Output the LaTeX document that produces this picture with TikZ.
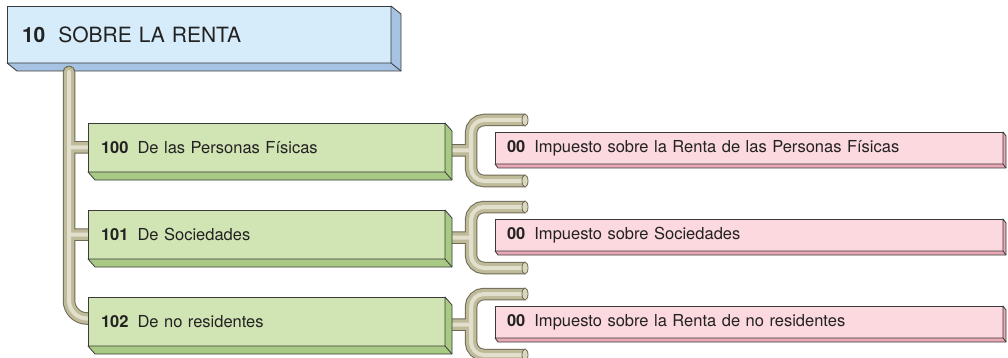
\documentclass[tikz,border=0pt]{standalone}
\usepackage{fontspec}
\setmainfont{TeX Gyre Heros}
\usetikzlibrary{calc}
\pgfdeclarelayer{under}
\pgfdeclarelayer{tubes}
\pgfsetlayers{under,tubes,main}
\definecolor{boxline}{HTML}{3A3A3A}
\definecolor{textc}{HTML}{222222}
\definecolor{topfill}{HTML}{D6ECFA}
\definecolor{topside}{HTML}{A7C3E3}
\definecolor{greenfill}{HTML}{D1E4B3}
\definecolor{greenside}{HTML}{A9CA84}
\definecolor{pinkfill}{HTML}{FCD8DF}
\definecolor{pinkside}{HTML}{E9A8B5}
\definecolor{tubeline}{HTML}{6E6A55}
\definecolor{tubefill}{HTML}{BEBA9A}
\definecolor{tubelight}{HTML}{E2E0CC}
\definecolor{tubecap}{HTML}{DAD7BF}
\newcommand\boxdepth[4]{%
  \path[draw=boxline,line width=0.8pt,line join=round,fill=#4]
    (#1.north east) -- ($(#1.north east)+(#2,#3)$) -- ($(#1.south east)+(#2,#3)$)
    -- ($(#1.south west)+(#2,#3)$) -- (#1.south west) -- (#1.south east) -- cycle;
  \draw[boxline,line width=0.8pt] (#1.south east) -- ($(#1.south east)+(#2,#3)$);
}
\begin{document}
\begin{tikzpicture}[x=1pt,y=-1pt,
  basebox/.style={draw=boxline, line width=0.8pt, anchor=north west, outer sep=0pt,
    inner ysep=0pt, align=left, text=textc},
  topbox/.style={basebox, fill=topfill, minimum height=57pt, inner xsep=15pt, text width=354pt,
    font=\fontsize{21}{25}\selectfont},
  greenbox/.style={basebox, fill=greenfill, minimum height=49pt, inner xsep=13pt, text width=331pt,
    font=\fontsize{16.5}{19}\selectfont},
  pinkbox/.style={basebox, fill=pinkfill, minimum height=32pt, inner xsep=12pt, text width=484pt,
    font=\fontsize{16.5}{19}\selectfont},
  tubeA/.style={draw=tubeline, line width=12.5pt},
  tubeB/.style={draw=tubefill, line width=10.5pt},
  tubeC/.style={draw=tubelight, line width=4pt},
  tubecapstyle/.style={draw=tubeline, line width=0.8pt, fill=tubecap}
]
\useasboundingbox (0,0) rectangle (1008,358);

% top box (under the tubes)
\begin{pgfonlayer}{under}
\node[topbox] (top) at (7,6) {{\bfseries 10}\hspace{13pt}SOBRE LA RENTA};
\boxdepth{top}{10}{8}{topside}
\end{pgfonlayer}

% green boxes
\node[greenbox] (g1) at (88,123) {{\bfseries 100}\hspace{9pt}De las Personas Físicas};
\boxdepth{g1}{7}{8}{greenside}
\node[greenbox] (g2) at (88,210) {{\bfseries 101}\hspace{9pt}De Sociedades};
\boxdepth{g2}{7}{8}{greenside}
\node[greenbox] (g3) at (88,297) {{\bfseries 102}\hspace{9pt}De no residentes};
\boxdepth{g3}{7}{8}{greenside}

% pink boxes
\node[pinkbox] (p1) at (495,132) {{\bfseries 00}\hspace{9pt}Impuesto sobre la Renta de las Personas Físicas};
\boxdepth{p1}{3}{4}{pinkside}
\node[pinkbox] (p2) at (495,219) {{\bfseries 00}\hspace{9pt}Impuesto sobre Sociedades};
\boxdepth{p2}{3}{4}{pinkside}
\node[pinkbox] (p3) at (495,306) {{\bfseries 00}\hspace{9pt}Impuesto sobre la Renta de no residentes};
\boxdepth{p3}{3}{4}{pinkside}

\coordinate (pipetop) at ($(top.south west)+(62,9)$);
\coordinate (pipeend) at ($(g3.west)+(0,-3)$);
\coordinate (b1) at ($(g1.east)+(26,3)$);
\coordinate (b2) at ($(g2.east)+(26,3)$);
\coordinate (b3) at ($(g3.east)+(26,3)$);

\begin{pgfonlayer}{tubes}
\newcommand\lefttree{(pipetop) |- (pipeend) (pipetop |- g1.west) -- (g1.west) (pipetop |- g2.west) -- (g2.west)}
\foreach \s in {tubeA,tubeB,tubeC}{
  \draw[\s, line cap=round, rounded corners=18pt] \lefttree;
}
\foreach \g/\b in {g1/b1,g2/b2,g3/b3}{
  \foreach \s in {tubeA,tubeB,tubeC}{
    \draw[\s, line cap=butt, rounded corners=13pt]
      (\g.east |- \b) -- (\b)
      ($(\b)+(54,-30.5)$) -- ($(\b)+(0,-30.5)$) -- ($(\b)+(0,30.5)$) -- ($(\b)+(54,30.5)$);
  }
  \draw[tubecapstyle] ($(\b)+(54,-30.5)$) ellipse [x radius=3pt, y radius=6pt];
  \draw[tubecapstyle] ($(\b)+(54,30.5)$) ellipse [x radius=3pt, y radius=6pt];
}
\end{pgfonlayer}
\end{tikzpicture}
\end{document}
